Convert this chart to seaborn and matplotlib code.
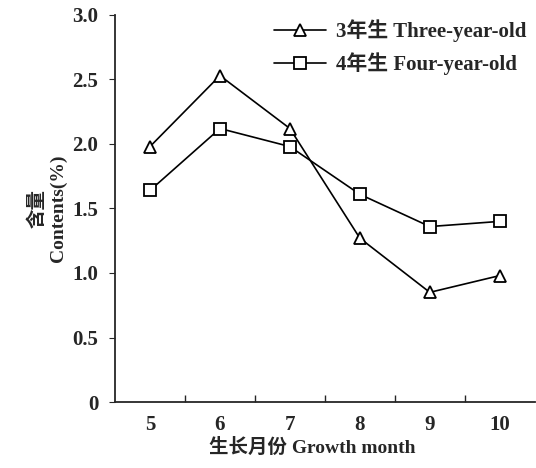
import matplotlib
matplotlib.use("Agg")
import matplotlib.pyplot as plt
import pandas as pd
import seaborn as sns
from matplotlib.ticker import FixedLocator

# growth months and contents (%)
months = ["5", "6", "7", "8", "9", "10"]
three_year = [1.98, 2.53, 2.12, 1.27, 0.85, 0.98]
four_year = [1.64, 2.12, 1.98, 1.61, 1.36, 1.40]
series_labels = ["3年生 Three-year-old", "4年生 Four-year-old"]

sns.set_style("ticks")
plt.rcParams["font.family"] = ["Liberation Serif", "Noto Sans CJK SC"]
plt.rcParams["font.weight"] = "bold"

df = pd.DataFrame({
    "month": months * 2,
    "pos": list(range(len(months))) * 2,
    "value": three_year + four_year,
    "group": [series_labels[0]] * len(months) + [series_labels[1]] * len(months),
})

fig = plt.figure(figsize=(5.36, 4.68), dpi=100)
ax = fig.add_axes([0.2146, 0.141, 0.783, 0.827])

sns.lineplot(data=df, x="pos", y="value", hue="group", style="group",
             markers={series_labels[0]: "^", series_labels[1]: "s"},
             dashes=False, palette=["black", "black"], markersize=9,
             markerfacecolor="white", markeredgecolor="black", markeredgewidth=1.3,
             linewidth=1.2, ax=ax)

ax.set_xlim(-0.5, len(months) - 0.5)
ax.set_ylim(0, 3.0)
ax.set_xticks(range(len(months)))
ax.set_xticklabels(months)
ax.xaxis.set_minor_locator(FixedLocator([i + 0.5 for i in range(len(months) - 1)]))
ax.tick_params(axis="x", which="major", length=0, labelsize=15, pad=9)
ax.tick_params(axis="x", which="minor", direction="in", length=5, width=1)
ax.set_yticks([0, 0.5, 1.0, 1.5, 2.0, 2.5, 3.0])
ax.set_yticklabels(["0", "0.5", "1.0", "1.5", "2.0", "2.5", "3.0"])
ax.tick_params(axis="y", direction="out", length=4, labelsize=15, pad=8)
sns.despine(ax=ax)
for s in ["left", "bottom"]:
    ax.spines[s].set_linewidth(1.3)

ax.set_xlabel("生长月份 Growth month", fontsize=14, fontweight="bold")
ax.xaxis.set_label_coords(0.47, -0.093)
ax.set_ylabel("含量\nContents(%)", fontsize=14, fontweight="bold", labelpad=4)

ax.legend(title=None, loc="upper right", frameon=False,
          prop={"size": 15, "weight": "bold"},
          handlelength=2.5, borderaxespad=0.0, labelspacing=0.5,
          handletextpad=0.5, bbox_to_anchor=(1.0, 1.01))

fig.savefig("out.png", dpi=100)
